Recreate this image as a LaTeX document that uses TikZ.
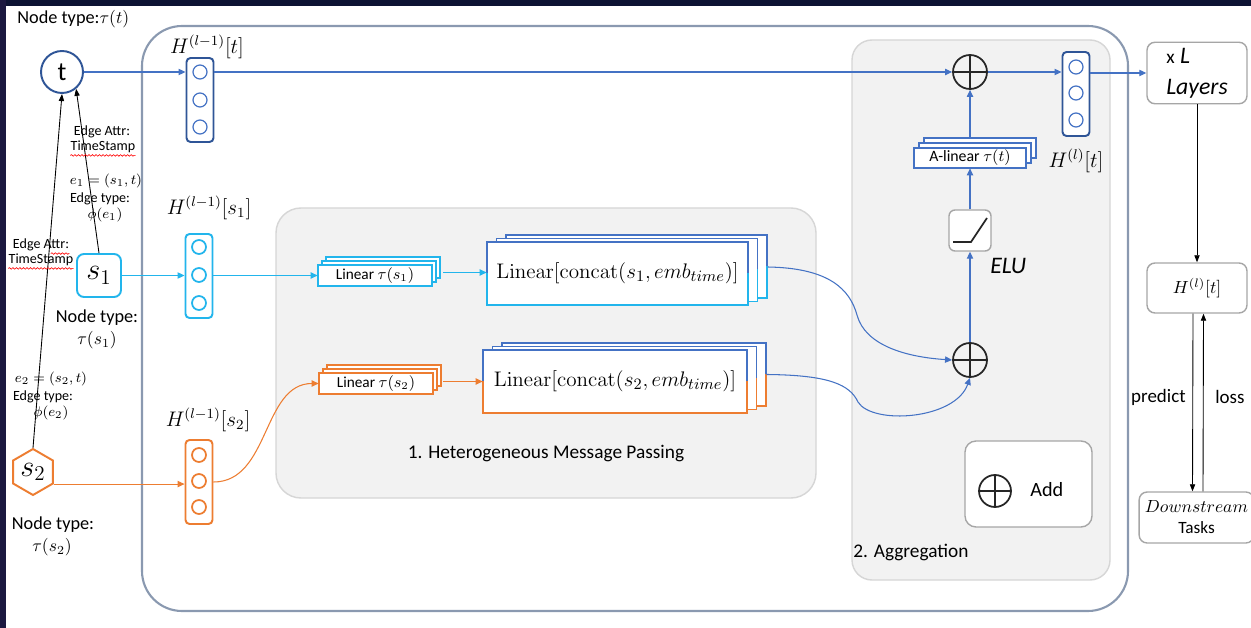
\documentclass[tikz,border=0pt]{standalone}
\usepackage[no-math]{fontspec}
\setmainfont{Carlito}
\usetikzlibrary{arrows.meta,shapes.geometric,decorations.pathmorphing}

\definecolor{navy}{HTML}{0D1333}
\definecolor{leftband}{HTML}{1B1840}
\definecolor{dblue}{HTML}{2F5597}
\definecolor{mblue}{HTML}{4472C4}
\definecolor{cyanc}{HTML}{22B5EC}
\definecolor{orangec}{HTML}{ED7D31}
\definecolor{panelfill}{HTML}{F2F2F2}
\definecolor{panelline}{HTML}{D6D6D6}
\definecolor{outerline}{HTML}{8A99B0}
\definecolor{boxgray}{HTML}{A6A6A6}

% three stacked rectangles, front one at (#1,#2)-(#3,#4), back copies shifted by (#5,-#6);
% upper half of each outline in #7, lower half in #8
\newcommand\layeredbox[8]{%
  \foreach \k in {2,1,0}{%
    \fill[white] ({#1+\k*#5},{#2-\k*#6}) rectangle ({#3+\k*#5},{#4-\k*#6});
    \begin{scope}
      \clip ({#1+\k*#5-4},{#2-\k*#6-4}) rectangle ({#3+\k*#5+4},{(#2+#4)/2-\k*#6});
      \draw[#7,line width=1.1pt] ({#1+\k*#5},{#2-\k*#6}) rectangle ({#3+\k*#5},{#4-\k*#6});
    \end{scope}
    \begin{scope}
      \clip ({#1+\k*#5-4},{(#2+#4)/2-\k*#6}) rectangle ({#3+\k*#5+4},{#4-\k*#6+4});
      \draw[#8,line width=1.1pt] ({#1+\k*#5},{#2-\k*#6}) rectangle ({#3+\k*#5},{#4-\k*#6});
    \end{scope}
  }}

\begin{document}
\begin{tikzpicture}[x=0.02cm,y=-0.02cm,
  txt/.style={inner sep=0pt},
  nodetype/.style={txt,font=\fontsize{10.4}{12}\selectfont},
  edgelbl/.style={txt,font=\fontsize{8}{9.5}\selectfont},
  hlbl/.style={txt,font=\fontsize{11.5}{13}\selectfont},
  vec/.style={draw,rounded corners=0.08cm,line width=1.1pt,fill=white,
    minimum width=0.54cm,minimum height=1.68cm,inner sep=0pt},
  cell/.style={draw,circle,minimum size=0.28cm,inner sep=0pt},
  flowarrow/.style={line width=0.6pt,-{Triangle[length=4pt,width=3.6pt]}},
  relarrow/.style={line width=0.5pt,black,-{Triangle[length=4pt,width=3pt]}},
  rbox/.style={draw=boxgray,fill=white,line width=0.8pt,rounded corners=0.16cm},
  oplus/.style={circle,draw=black!85,line width=1pt,inner sep=0pt,
    path picture={\draw[line width=1pt,black!85]
      (path picture bounding box.north) -- (path picture bounding box.south)
      (path picture bounding box.west) -- (path picture bounding box.east);}},
  spell/.style={red,line width=0.35pt,decorate,
    decoration={snake,amplitude=0.45pt,segment length=2pt}},
  panel/.style={draw=panelline,fill=panelfill,line width=0.8pt}
]
\useasboundingbox (0,0) rectangle (1251,628);
\fill[white] (-20,-20) rectangle (1271,660);
\fill[navy] (-20,-20) rectangle (1271,6);
\fill[leftband] (-20,-20) rectangle (6,660);

% frames
\draw[outerline,line width=1.2pt,rounded corners=0.8cm] (142,26) rectangle (1128,611);
\draw[panel,rounded corners=0.5cm] (276,208) rectangle (816,498);
\draw[panel,rounded corners=0.4cm] (852,40) rectangle (1110,580);
\node[txt,font=\fontsize{11}{13}\selectfont] (mp) at (546,454) {1. Heterogeneous Message Passing};
\node[txt,font=\fontsize{11}{13}\selectfont,anchor=west] (agg) at (853,552) {2. Aggregation};

% graph nodes
\node[nodetype,anchor=west] (ttype) at (17,19) {Node type:$\tau(t)$};
\node[circle,draw=dblue,line width=1.1pt,minimum size=0.84cm,inner sep=0pt,
  font=\fontsize{15}{17}\selectfont] (t) at (62,72) {t};
\node[draw=cyanc,line width=1.1pt,rounded corners=0.14cm,minimum width=0.88cm,
  minimum height=0.86cm,inner sep=0pt,font=\fontsize{18}{20}\selectfont] (s1) at (99,275.5) {$s_1$};
\node[regular polygon,regular polygon sides=6,shape border rotate=30,draw=orangec,
  line width=1.1pt,minimum size=0.92cm,inner sep=0pt,font=\fontsize{18}{20}\selectfont] (s2) at (33,472) {$s_2$};

\node[nodetype] (s1ta) at (97,318) {Node type:};
\node[nodetype] (s1tb) at (97,340) {$\tau(s_1)$};
\node[nodetype] (s2ta) at (53,525) {Node type:};
\node[nodetype] (s2tb) at (52,547) {$\tau(s_2)$};

% edges into t
\draw[relarrow] (s1.north) -- (t.-50);
\draw[relarrow] (s2.north) -- (t.south);

\node[edgelbl] (ea1) at (102,132) {Edge Attr:};
\node[edgelbl] (ts1) at (103,147) {TimeStamp};
\node[edgelbl] (eq1) at (106,181) {$e_1=(s_1,t)$};
\node[edgelbl] (et1) at (100,199) {Edge type:};
\node[edgelbl] (ph1) at (105,215) {$\phi(e_1)$};
\node[edgelbl] (ea2) at (41,245) {Edge Attr:};
\node[edgelbl] (ts2) at (41,260) {TimeStamp};
\node[edgelbl] (eq2) at (51,379) {$e_2=(s_2,t)$};
\node[edgelbl] (et2) at (43,397) {Edge type:};
\node[edgelbl] (ph2) at (51,413) {$\phi(e_2)$};
\draw[spell] ([yshift=-1.2pt]ts1.south west) -- ([yshift=-1.2pt]ts1.south east);
\draw[spell] ([yshift=-1.2pt]ts2.south west) -- ([yshift=-1.2pt]ts2.south east);
\draw[spell] ([yshift=-1.2pt,xshift=5.6pt]ea2.south) -- ([yshift=-1.2pt]ea2.south east);

% hidden-state vectors
\node[vec,draw=dblue] (vt) at (200,100) {};
\foreach \yy/\n in {72/a,100/b,127/c} \node[cell,draw=mblue,line width=0.7pt] (vt\n) at (200,\yy) {};
\node[hlbl] (hvt) at (207,47) {$H^{(l-1)}[t]$};

\node[vec,draw=cyanc] (vs1) at (199,276) {};
\foreach \yy/\n in {247/a,275/b,303/c} \node[cell,draw=cyanc,line width=1pt] (vs1\n) at (199,\yy) {};
\node[hlbl] (hvs1) at (209,208) {$H^{(l-1)}[s_1]$};

\node[vec,draw=orangec] (vs2) at (199,482) {};
\foreach \yy/\n in {455/a,481/b,507/c} \node[cell,draw=orangec,line width=1pt] (vs2\n) at (199,\yy) {};
\node[hlbl] (hvs2) at (208,420) {$H^{(l-1)}[s_2]$};

\node[vec,draw=dblue] (vl) at (1076,94) {};
\foreach \yy/\n in {67/a,93/b,120/c} \node[cell,draw=mblue,line width=0.7pt] (vl\n) at (1076,\yy) {};
\node[hlbl] (hvl) at (1076,161) {$H^{(l)}[t]$};

% type-specific linear layers
\layeredbox{318}{265}{432}{286}{4}{4}{cyanc}{cyanc}
\node[txt,minimum width=2.28cm,minimum height=0.42cm,font=\fontsize{8.7}{10}\selectfont] (lin1) at (375,275.5) {Linear $\tau(s_1)$};
\layeredbox{319}{373}{433}{394}{4}{4}{orangec}{orangec}
\node[txt,minimum width=2.28cm,minimum height=0.42cm,font=\fontsize{8.7}{10}\selectfont] (lin2) at (376,383.5) {Linear $\tau(s_2)$};

\layeredbox{487}{242}{748}{305}{9.5}{3.5}{mblue}{cyanc}
\node[txt,minimum width=5.22cm,minimum height=1.26cm,font=\fontsize{12.8}{14}\selectfont] (cat1) at (617.5,273.5) {$\mathrm{Linear}[\mathrm{concat}(s_1,emb_{time})]$};
\layeredbox{483}{350}{747}{413}{9.5}{3.5}{mblue}{orangec}
\node[txt,minimum width=5.28cm,minimum height=1.26cm,font=\fontsize{12.8}{14}\selectfont] (cat2) at (615,381.5) {$\mathrm{Linear}[\mathrm{concat}(s_2,emb_{time})]$};

% aggregation
\node[oplus,minimum size=0.68cm] (ptop) at (970,72) {};
\node[oplus,minimum size=0.68cm] (plow) at (970,360) {};
\node[rbox,minimum width=0.84cm,minimum height=0.82cm,rounded corners=0.12cm] (elu) at (970,230.5) {};
\draw[line width=1pt,black!85] ([shift={(-17,11.5)}]elu.center) -- ([shift={(1,11.5)}]elu.center) -- ([shift={(17,-12.5)}]elu.center);
\node[txt,anchor=west,font=\fontsize{13.5}{15}\selectfont\itshape] (elulbl) at (990,266) {ELU};
\layeredbox{914}{148}{1026}{168}{5}{5}{mblue}{mblue}
\node[txt,minimum width=2.24cm,minimum height=0.4cm,font=\fontsize{9}{10.5}\selectfont] (alin) at (970,158) {A-linear $\tau(t)$};

\node[rbox,minimum width=2.54cm,minimum height=1.72cm,rounded corners=0.22cm] (add) at (1028.5,484) {};
\node[oplus,minimum size=0.64cm] (addsym) at (995,491) {};
\node[txt,anchor=west,font=\fontsize{11.5}{13}\selectfont] (addlbl) at (1030,490) {Add};

% right column
\node[rbox,minimum width=2cm,minimum height=1.06cm,align=left,font=\fontsize{13.5}{15.5}\selectfont] (layers) at (1197,73) {{\fontsize{11}{13}\selectfont x} \textit{L}\\[2pt]\textit{Layers}};
\node[rbox,minimum width=2cm,minimum height=1cm,font=\fontsize{10}{12}\selectfont] (hout) at (1197,288) {$H^{(l)}[t]$};
\node[rbox,minimum width=1.98cm,minimum height=1.02cm,align=center,font=\fontsize{9.8}{12}\selectfont] (down) at (1196.5,517.5) {$Downstream$\\Tasks};
\node[txt,anchor=east,font=\fontsize{10.8}{13}\selectfont] (pred) at (1186,397) {predict};
\node[txt,anchor=west,font=\fontsize{10.8}{13}\selectfont] (loss) at (1215,397) {loss};

% connectors
\draw[flowarrow,mblue] (t.east) -- (t.east -| vt.west);
\draw[flowarrow,mblue] (t.east -| vt.east) -- (ptop.west);
\draw[flowarrow,mblue] (ptop.east) -- (ptop.east -| vl.west);
\draw[flowarrow,mblue] (vl.east |- layers.west) -- (layers.west);

\draw[flowarrow,cyanc] (s1.east) -- (s1.east -| vs1.west);
\draw[flowarrow,cyanc] (s1.east -| vs1.east) -- (lin1.west);
\draw[flowarrow,cyanc] ([shift={(11,-3)}]lin1.east) coordinate (l1o) -- (l1o -| cat1.west);

\draw[flowarrow,orangec] (s2.-30) -- (s2.-30 -| vs2.west);
\draw[flowarrow,orangec] (vs2.east) to[out=0,in=180] (lin2.west);
\draw[flowarrow,orangec] ([shift={(10,-2)}]lin2.east) coordinate (l2o) -- (l2o -| cat2.west);

\draw[flowarrow,mblue] ([shift={(19.5,-6.5)}]cat1.east) .. controls (830,268) and (850,290) .. (857,315)
  .. controls (865,345) and (905,357) .. (plow.west);
\draw[flowarrow,mblue] ([shift={(19,-7)}]cat2.east) .. controls (830,375) and (850,385) .. (858,402)
  .. controls (872,425) and (955,420) .. (plow.south);

\draw[flowarrow,mblue] (plow.north) -- (elu.south);
\draw[flowarrow,mblue] (elu.north) -- (alin.south);
\draw[flowarrow,mblue] ([yshift=0.2cm]alin.north) -- (ptop.south);

\draw[relarrow] (layers.south) -- (hout.north);
\draw[relarrow] ([xshift=-0.08cm]hout.south) -- ([xshift=-0.08cm]down.north);
\draw[relarrow] ([xshift=0.13cm]down.north) -- ([xshift=0.13cm]hout.south);
\end{tikzpicture}
\end{document}
